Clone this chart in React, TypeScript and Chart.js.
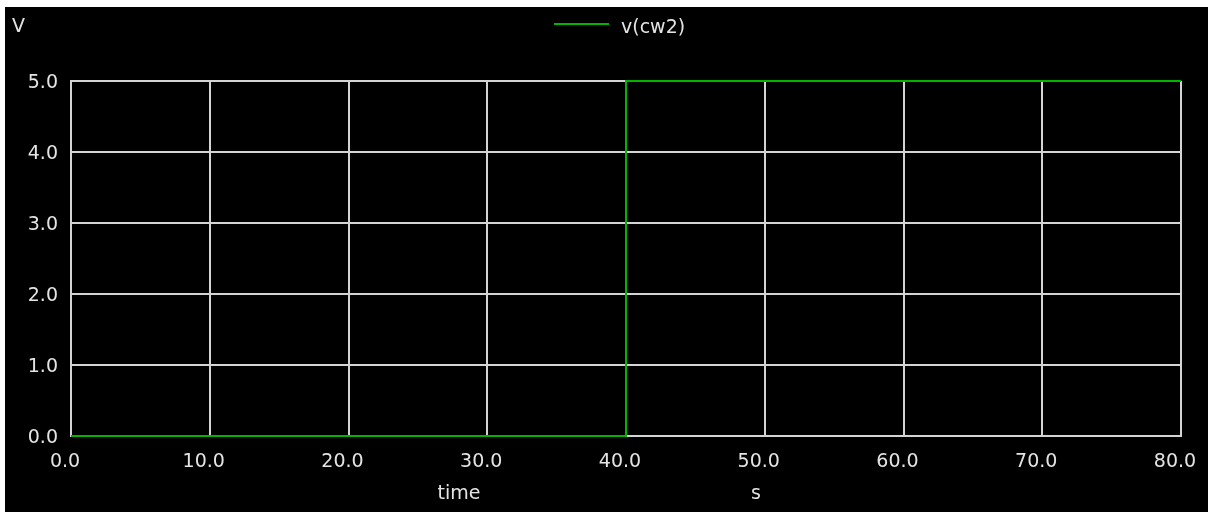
import React, { useEffect, useRef } from "react";
import { Chart, registerables } from "chart.js";

Chart.register(...registerables);

const seriesName = "v(cw2)";
const timeValues = [0, 40, 40, 80];
const voltageValues = [0, 0, 5, 5];
const xTicks = [0, 10, 20, 30, 40, 50, 60, 70, 80];
const yTicks = [0, 1, 2, 3, 4, 5];
const yUnit = "V";
const xTitle = "time";
const xUnit = "s";

const W = 1208;
const H = 513;
const FONT = "DejaVu Sans";
const TEXT = "#e4e4e4";
const GRID = "#d4d4d4";
const GREEN = "#00b400";

export default function App() {
  const ref = useRef<HTMLCanvasElement | null>(null);

  useEffect(() => {
    document.body.style.margin = "0";
    const canvas = ref.current;
    if (!canvas) return;

    const bgPlugin = {
      id: "bg",
      beforeDraw(chart: any) {
        const c = chart.ctx;
        c.save();
        c.fillStyle = "#ffffff";
        c.fillRect(0, 0, W, H);
        c.fillStyle = "#000000";
        c.fillRect(5, 7, W - 5, 505);
        c.restore();
      },
      afterDraw(chart: any) {
        const c = chart.ctx;
        const xs = chart.scales.x;
        const ys = chart.scales.y;
        c.save();
        c.font = `19px "${FONT}"`;
        c.fillStyle = TEXT;
        c.textBaseline = "middle";
        // tick labels
        c.textAlign = "center";
        xTicks.forEach((v) => {
          c.fillText(v.toFixed(1), xs.getPixelForValue(v) - 6, 462);
        });
        c.textAlign = "right";
        yTicks.forEach((v) => {
          c.fillText(v.toFixed(1), 58, ys.getPixelForValue(v) + 2);
        });
        c.textAlign = "left";
        c.fillText(yUnit, 12, 27);
        // legend
        c.strokeStyle = GREEN;
        c.lineWidth = 2;
        c.beginPath();
        c.moveTo(554, 24);
        c.lineTo(609, 24);
        c.stroke();
        c.fillText(seriesName, 621, 28);
        c.textAlign = "center";
        c.fillText(xTitle, 459, 494);
        c.fillText(xUnit, 756, 494);
        c.restore();
      },
    };

    const chart = new Chart(canvas, {
      type: "line",
      data: {
        datasets: [
          {
            label: seriesName,
            data: timeValues.map((t, i) => ({ x: t, y: voltageValues[i] })),
            borderColor: GREEN,
            borderWidth: 2,
            pointRadius: 0,
            fill: false,
            tension: 0,
            clip: 4,
          },
        ],
      },
      options: {
        animation: false,
        responsive: false,
        maintainAspectRatio: false,
        devicePixelRatio: 1,
        layout: { padding: { left: 0, top: 81, right: W - 1181, bottom: 0 } },
        plugins: {
          legend: { display: false },
          tooltip: { enabled: false },
          title: { display: false },
        },
        scales: {
          x: {
            type: "linear",
            min: 0,
            max: 80,
            afterFit: (s: any) => {
              s.height = H - 436;
              s.paddingLeft = 0;
              s.paddingRight = 0;
            },
            afterBuildTicks: (s: any) => {
              s.ticks = xTicks.map((v) => ({ value: v }));
            },
            grid: { color: GRID, lineWidth: 2, drawTicks: false },
            border: { color: GRID, width: 2 },
            ticks: { display: false },
          },
          y: {
            type: "linear",
            min: 0,
            max: 5,
            afterFit: (s: any) => {
              s.width = 71;
              s.paddingTop = 0;
              s.paddingBottom = 0;
            },
            afterBuildTicks: (s: any) => {
              s.ticks = yTicks.map((v) => ({ value: v }));
            },
            grid: { color: GRID, lineWidth: 2, drawTicks: false },
            border: { color: GRID, width: 2 },
            ticks: { display: false },
          },
        },
      },
      plugins: [bgPlugin],
    });

    return () => chart.destroy();
  }, []);

  return (
    <div style={{ position: "fixed", left: 0, top: 0, width: W, height: H }}>
      <canvas ref={ref} width={W} height={H} style={{ width: W, height: H, display: "block" }} />
    </div>
  );
}
